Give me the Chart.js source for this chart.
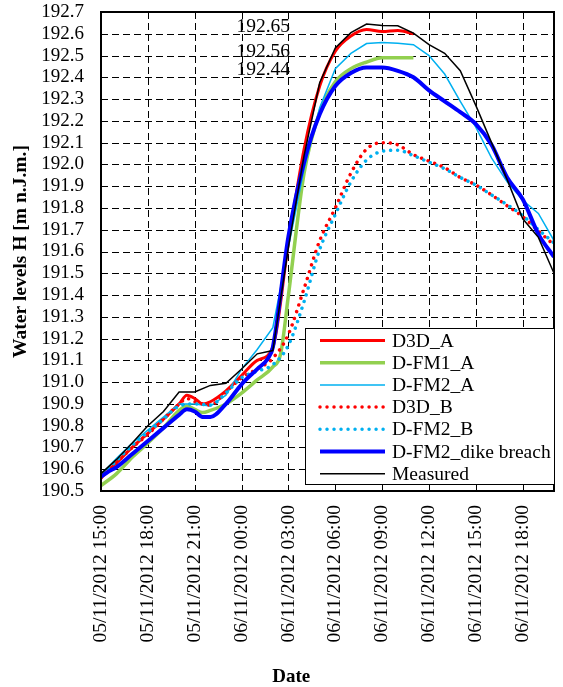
<!DOCTYPE html>
<html><head><meta charset="utf-8">
<script src="https://cdn.jsdelivr.net/npm/chart.js@4.4.1/dist/chart.umd.min.js"></script>
<style>html,body{margin:0;padding:0;background:#fff;}canvas{display:block;}</style>
</head><body>
<canvas id="c" width="563" height="687"></canvas>
<script>
// ---- data (x = hours after 05/11/2012 15:00) ----
const xTickHours = [0,3,6,9,12,15,18,21,24,27];
const xTickLabels = ['05/11/2012 15:00','05/11/2012 18:00','05/11/2012 21:00','06/11/2012 00:00','06/11/2012 03:00',
  '06/11/2012 06:00','06/11/2012 09:00','06/11/2012 12:00','06/11/2012 15:00','06/11/2012 18:00'];
const yTickLabels = ['190.5','190.6','190.7','190.8','190.9','191.0','191.1','191.2','191.3','191.4','191.5','191.6',
  '191.7','191.8','191.9','192.0','192.1','192.2','192.3','192.4','192.5','192.6','192.7'];
const xTitle = 'Date';
const yTitle = 'Water levels H [m n.J.m.]';

const tD3dA = [0,1,2,3,4,5,5.5,6,6.5,7,8,9,10,11,12,13,14,15,16,17,18,19,20];
const vD3dA = [190.56,190.63,190.70,190.765,190.83,190.90,190.94,190.925,190.90,190.91,190.96,191.03,191.10,191.16,191.64,192.07,192.36,192.52,192.59,192.62,192.61,192.615,192.60];

const tFm1A = [0,1,2,3,4,5,5.5,6,6.5,7,8,9,10,11,11.5,12,13,14,15,16,17,18,19,20];
const vFm1A = [190.525,190.58,190.655,190.72,190.79,190.87,190.89,190.875,190.86,190.87,190.90,190.95,191.01,191.07,191.13,191.40,191.96,192.24,192.38,192.44,192.47,192.49,192.49,192.49];

const tFm2A = [0,1,2,3,4,5,6,7,8,9,10,11,12,13,14,15,16,17,18,19,20,21,22,23,24,25,26,27,28,29];
const vFm2A = [190.575,190.65,190.72,190.78,190.84,190.90,190.90,190.89,190.94,191.06,191.15,191.25,191.62,191.98,192.26,192.44,192.51,192.555,192.56,192.557,192.55,192.50,192.415,192.29,192.17,192.03,191.92,191.835,191.775,191.65];

const tD3dB = [0,1,2,3,4,5,5.5,6,7,8,9,10,11,12,13,14,15,16,17,18,19,20,21,22,23,24,25,26,27,28,29];
const vD3dB = [190.56,190.63,190.70,190.76,190.83,190.90,190.925,190.91,190.895,190.955,191.02,191.06,191.11,191.22,191.43,191.65,191.80,191.96,192.07,192.10,192.09,192.045,192.015,191.985,191.94,191.905,191.86,191.81,191.76,191.695,191.63];

const tFm2B = [0,1,2,3,4,5,6,7,8,9,10,11,12,13,14,15,16,17,18,19,20,21,22,23,24,25,26,27,28,29];
const vFm2B = [190.57,190.64,190.71,190.77,190.83,190.89,190.90,190.895,190.95,191.02,191.05,191.08,191.17,191.37,191.61,191.77,191.92,192.02,192.06,192.065,192.04,192.01,191.98,191.94,191.905,191.86,191.815,191.765,191.70,191.64];

const tDike = [0,0.5,1,2,3,4,5,5.5,6,6.5,7,8,9,10,10.7,11,12,13,14,15,16,17,18,19,20,21,22,23,24,25,26,27,28,29];
const vDike = [190.565,190.59,190.61,190.67,190.73,190.79,190.85,190.875,190.865,190.84,190.84,190.90,190.99,191.06,191.11,191.16,191.67,192.01,192.23,192.36,192.42,192.445,192.445,192.43,192.40,192.34,192.29,192.24,192.185,192.09,191.94,191.84,191.68,191.575];

const tMeas = [0,1,2,3,4,5,6,7,8,9,10,11,12,13,14,15,16,17,18,19,20,21,22,23,24,25,26,27,28,29];
const vMeas = [190.58,190.645,190.72,190.80,190.865,190.955,190.955,190.985,190.995,191.06,191.13,191.145,191.62,192.04,192.375,192.535,192.605,192.645,192.638,192.637,192.603,192.55,192.51,192.43,192.27,192.10,191.93,191.75,191.665,191.50];

const annotTexts = ['192.65','192.56','192.44'];
const annotValues = [192.632, 192.519, 192.434];

// ---- chart ----
const FONT = "'Liberation Serif','Times New Roman',serif";
const pts = (t, v) => t.map((x, i) => ({x: x, y: v[i]}));
const dotDash = [0.01, 7];
const gridDash = [7, 4];

const datasets = [
  {label:'D3D_A', data:pts(tD3dA,vD3dA), borderColor:'#FF0000', borderWidth:3, order:6, cubicInterpolationMode:'monotone'},
  {label:'D-FM1_A', data:pts(tFm1A,vFm1A), borderColor:'#92D050', borderWidth:3.5, order:5, cubicInterpolationMode:'monotone'},
  {label:'D-FM2_A', data:pts(tFm2A,vFm2A), borderColor:'#00B0F0', borderWidth:1.5, order:4},
  {label:'D3D_B', data:pts(tD3dB,vD3dB), borderColor:'#FF0000', borderWidth:3.5, borderDash:dotDash, borderCapStyle:'round', order:3, cubicInterpolationMode:'monotone'},
  {label:'D-FM2_B', data:pts(tFm2B,vFm2B), borderColor:'#00B0F0', borderWidth:3.5, borderDash:dotDash, borderDashOffset:3.5, borderCapStyle:'round', order:2, cubicInterpolationMode:'monotone'},
  {label:'D-FM2_dike breach', data:pts(tDike,vDike), borderColor:'#0000FF', borderWidth:4, order:1, cubicInterpolationMode:'monotone'},
  {label:'Measured', data:pts(tMeas,vMeas), borderColor:'#000000', borderWidth:1.5, order:0}
];
datasets.forEach(d => { d.pointRadius = 0; d.fill = false; d.backgroundColor = d.borderColor; });

const overlay = {
  id: 'overlay',
  beforeDatasetsDraw(chart) {
    // dashed grid lines at the scales' tick positions
    const ctx = chart.ctx, a = chart.chartArea, xs = chart.scales.x, ys = chart.scales.y;
    ctx.save();
    ctx.strokeStyle = '#000'; ctx.lineWidth = 1; ctx.setLineDash(gridDash);
    xs.ticks.forEach(t => {
      const x = Math.round(xs.getPixelForValue(t.value)) + 0.5;
      ctx.beginPath(); ctx.moveTo(x, a.top); ctx.lineTo(x, a.bottom); ctx.stroke();
    });
    ys.ticks.forEach(t => {
      const y = Math.round(ys.getPixelForValue(t.value)) + 0.5;
      ctx.beginPath(); ctx.moveTo(a.left, y); ctx.lineTo(a.right, y); ctx.stroke();
    });
    ctx.restore();
  },
  afterDraw(chart) {
    const ctx = chart.ctx, a = chart.chartArea, xs = chart.scales.x, ys = chart.scales.y;
    ctx.save();
    // plot border
    ctx.strokeStyle = '#000'; ctx.lineWidth = 2; ctx.setLineDash([]);
    ctx.strokeRect(a.left, a.top, a.right - a.left, a.bottom - a.top);
    // annotations
    ctx.fillStyle = '#000'; ctx.font = '19.5px ' + FONT; ctx.textAlign = 'left'; ctx.textBaseline = 'middle';
    annotTexts.forEach((t, i) => ctx.fillText(t, xs.getPixelForValue(8.67), ys.getPixelForValue(annotValues[i])));
    // legend
    const L = a.right - 249, T = a.bottom - 163, R = a.right + 1, B = a.bottom - 6;
    ctx.fillStyle = '#fff'; ctx.fillRect(L, T, R - L, B - T);
    ctx.strokeStyle = '#000'; ctx.lineWidth = 1; ctx.strokeRect(L + 0.5, T + 0.5, R - L - 1, B - T - 1);
    ctx.font = '19.5px ' + FONT;
    chart.data.datasets.forEach((d, i) => {
      const y = T + 12.5 + i * 22.2;
      ctx.save();
      ctx.strokeStyle = d.borderColor; ctx.lineWidth = d.borderWidth;
      ctx.setLineDash(d.borderDash || []); ctx.lineCap = d.borderCapStyle || 'butt';
      ctx.lineDashOffset = 0;
      ctx.beginPath(); ctx.moveTo(L + 15, y); ctx.lineTo(L + 80, y); ctx.stroke();
      ctx.restore();
      ctx.fillStyle = '#000'; ctx.textAlign = 'left'; ctx.textBaseline = 'middle';
      ctx.fillText(d.label, L + 87, y + 1);
    });
    // x-axis title
    ctx.font = 'bold 19px ' + FONT; ctx.textAlign = 'center'; ctx.textBaseline = 'middle';
    ctx.fillText(xTitle, xs.getPixelForValue(12.18), chart.height - 10);
    ctx.restore();
  }
};

new Chart(document.getElementById('c'), {
  type: 'line',
  data: { datasets: datasets },
  options: {
    responsive: false, animation: false, devicePixelRatio: 1,
    layout: { padding: { left: 0, top: 12, right: 9, bottom: 0 } },
    plugins: { legend: { display: false }, tooltip: { enabled: false } },
    scales: {
      x: {
        type: 'linear', min: 0, max: 29,
        afterBuildTicks: s => { s.ticks = xTickHours.map(v => ({value: v})); },
        afterFit: s => { s.height = 196; s.paddingLeft = 0; s.paddingRight = 0; },
        grid: { display: false, drawTicks: false },
        border: { display: true, color: '#000', width: 2 },
        ticks: { autoSkip: false, minRotation: 90, maxRotation: 90, padding: 14, color: '#000',
          font: { family: FONT, size: 19.5 },
          callback: v => { const i = xTickHours.indexOf(v); return i >= 0 ? xTickLabels[i] : ''; } }
      },
      y: {
        type: 'linear', min: 190.5, max: 192.7,
        afterBuildTicks: s => { s.ticks = yTickLabels.map(t => ({value: parseFloat(t)})); },
        afterFit: s => { s.width = 101; s.paddingTop = 0; s.paddingBottom = 0; },
        grid: { display: false, drawTicks: false },
        border: { display: true, color: '#000', width: 2 },
        ticks: { autoSkip: false, padding: 17, color: '#000', font: { family: FONT, size: 19 },
          callback: v => v.toFixed(1) },
        title: { display: true, text: yTitle, color: '#000', font: { family: FONT, size: 19.5, weight: 'bold' },
          padding: { top: 9, bottom: 0 } }
      }
    }
  },
  plugins: [overlay]
});
</script>
</body></html>
